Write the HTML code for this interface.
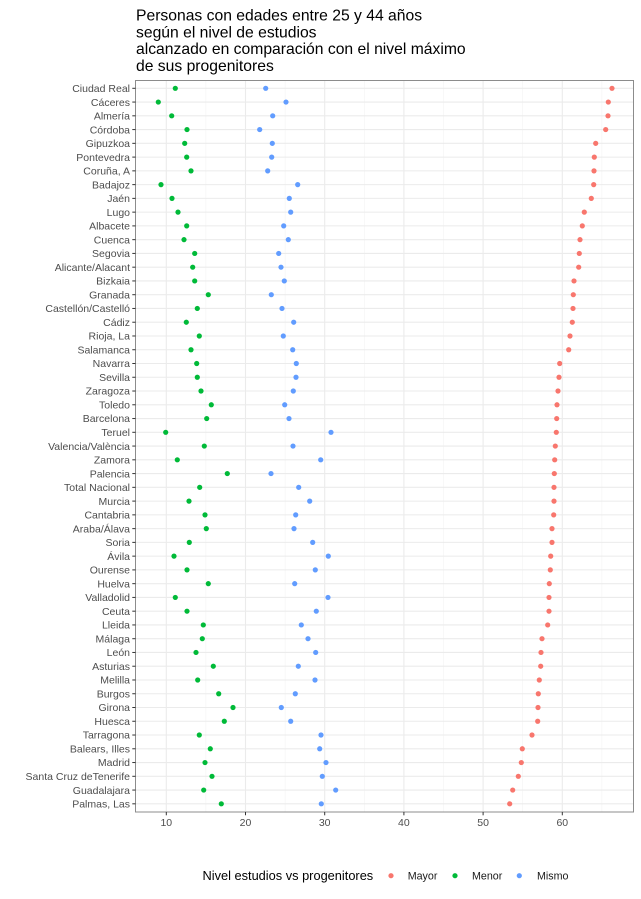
<!DOCTYPE html>
<html>
<head>
<meta charset="utf-8">
<style>
html,body{margin:0;padding:0;background:#fff;}
svg{display:block;}
text{font-family:"Liberation Sans",Arial,sans-serif;}
.yl{font-size:10.5px;fill:#4d4d4d;text-anchor:end;}
.xl{font-size:10.5px;fill:#4d4d4d;text-anchor:middle;}
.t{font-size:15.7px;fill:#000;}
.mj{stroke:#ebebeb;stroke-width:1.07;}
.mn{stroke:#f2f2f2;stroke-width:0.55;}
.tk{stroke:#333;stroke-width:1;}
</style>
</head>
<body>
<svg width="641" height="899" viewBox="0 0 641 899" xmlns="http://www.w3.org/2000/svg">
<rect width="641" height="899" fill="#fff"/>
<!-- title -->
<text class="t" x="136" y="20.7">Personas con edades entre 25 y 44 años</text>
<text class="t" x="136" y="37.4">según el nivel de estudios</text>
<text class="t" x="136" y="54.1">alcanzado en comparación con el nivel máximo</text>
<text class="t" x="136" y="70.8">de sus progenitores</text>

<!-- minor vertical grid -->
<g class="mn">
<line x1="205.9" y1="80" x2="205.9" y2="812"/>
<line x1="285.1" y1="80" x2="285.1" y2="812"/>
<line x1="364.3" y1="80" x2="364.3" y2="812"/>
<line x1="443.5" y1="80" x2="443.5" y2="812"/>
<line x1="522.7" y1="80" x2="522.7" y2="812"/>
<line x1="601.9" y1="80" x2="601.9" y2="812"/>
</g>
<!-- major vertical grid -->
<g class="mj">
<line x1="166.3" y1="80" x2="166.3" y2="812"/>
<line x1="245.5" y1="80" x2="245.5" y2="812"/>
<line x1="324.7" y1="80" x2="324.7" y2="812"/>
<line x1="403.9" y1="80" x2="403.9" y2="812"/>
<line x1="483.1" y1="80" x2="483.1" y2="812"/>
<line x1="562.3" y1="80" x2="562.3" y2="812"/>
</g>
<!-- major horizontal grid -->
<g class="mj">
<line x1="136" y1="88.30" x2="634" y2="88.30"/>
<line x1="136" y1="102.06" x2="634" y2="102.06"/>
<line x1="136" y1="115.82" x2="634" y2="115.82"/>
<line x1="136" y1="129.58" x2="634" y2="129.58"/>
<line x1="136" y1="143.34" x2="634" y2="143.34"/>
<line x1="136" y1="157.10" x2="634" y2="157.10"/>
<line x1="136" y1="170.86" x2="634" y2="170.86"/>
<line x1="136" y1="184.62" x2="634" y2="184.62"/>
<line x1="136" y1="198.38" x2="634" y2="198.38"/>
<line x1="136" y1="212.14" x2="634" y2="212.14"/>
<line x1="136" y1="225.90" x2="634" y2="225.90"/>
<line x1="136" y1="239.66" x2="634" y2="239.66"/>
<line x1="136" y1="253.42" x2="634" y2="253.42"/>
<line x1="136" y1="267.18" x2="634" y2="267.18"/>
<line x1="136" y1="280.94" x2="634" y2="280.94"/>
<line x1="136" y1="294.70" x2="634" y2="294.70"/>
<line x1="136" y1="308.46" x2="634" y2="308.46"/>
<line x1="136" y1="322.22" x2="634" y2="322.22"/>
<line x1="136" y1="335.98" x2="634" y2="335.98"/>
<line x1="136" y1="349.74" x2="634" y2="349.74"/>
<line x1="136" y1="363.50" x2="634" y2="363.50"/>
<line x1="136" y1="377.26" x2="634" y2="377.26"/>
<line x1="136" y1="391.02" x2="634" y2="391.02"/>
<line x1="136" y1="404.78" x2="634" y2="404.78"/>
<line x1="136" y1="418.54" x2="634" y2="418.54"/>
<line x1="136" y1="432.30" x2="634" y2="432.30"/>
<line x1="136" y1="446.06" x2="634" y2="446.06"/>
<line x1="136" y1="459.82" x2="634" y2="459.82"/>
<line x1="136" y1="473.58" x2="634" y2="473.58"/>
<line x1="136" y1="487.34" x2="634" y2="487.34"/>
<line x1="136" y1="501.10" x2="634" y2="501.10"/>
<line x1="136" y1="514.86" x2="634" y2="514.86"/>
<line x1="136" y1="528.62" x2="634" y2="528.62"/>
<line x1="136" y1="542.38" x2="634" y2="542.38"/>
<line x1="136" y1="556.14" x2="634" y2="556.14"/>
<line x1="136" y1="569.90" x2="634" y2="569.90"/>
<line x1="136" y1="583.66" x2="634" y2="583.66"/>
<line x1="136" y1="597.42" x2="634" y2="597.42"/>
<line x1="136" y1="611.18" x2="634" y2="611.18"/>
<line x1="136" y1="624.94" x2="634" y2="624.94"/>
<line x1="136" y1="638.70" x2="634" y2="638.70"/>
<line x1="136" y1="652.46" x2="634" y2="652.46"/>
<line x1="136" y1="666.22" x2="634" y2="666.22"/>
<line x1="136" y1="679.98" x2="634" y2="679.98"/>
<line x1="136" y1="693.74" x2="634" y2="693.74"/>
<line x1="136" y1="707.50" x2="634" y2="707.50"/>
<line x1="136" y1="721.26" x2="634" y2="721.26"/>
<line x1="136" y1="735.02" x2="634" y2="735.02"/>
<line x1="136" y1="748.78" x2="634" y2="748.78"/>
<line x1="136" y1="762.54" x2="634" y2="762.54"/>
<line x1="136" y1="776.30" x2="634" y2="776.30"/>
<line x1="136" y1="790.06" x2="634" y2="790.06"/>
<line x1="136" y1="803.82" x2="634" y2="803.82"/>
</g>

<!-- Mayor (red) -->
<g fill="#F8766D">
<circle cx="612.0" cy="88.30" r="2.6"/>
<circle cx="608.3" cy="102.06" r="2.6"/>
<circle cx="608.0" cy="115.82" r="2.6"/>
<circle cx="605.7" cy="129.58" r="2.6"/>
<circle cx="595.7" cy="143.34" r="2.6"/>
<circle cx="594.3" cy="157.10" r="2.6"/>
<circle cx="594.0" cy="170.86" r="2.6"/>
<circle cx="593.7" cy="184.62" r="2.6"/>
<circle cx="591.3" cy="198.38" r="2.6"/>
<circle cx="584.3" cy="212.14" r="2.6"/>
<circle cx="582.3" cy="225.90" r="2.6"/>
<circle cx="580.0" cy="239.66" r="2.6"/>
<circle cx="579.3" cy="253.42" r="2.6"/>
<circle cx="578.7" cy="267.18" r="2.6"/>
<circle cx="574.0" cy="280.94" r="2.6"/>
<circle cx="573.3" cy="294.70" r="2.6"/>
<circle cx="573.0" cy="308.46" r="2.6"/>
<circle cx="572.3" cy="322.22" r="2.6"/>
<circle cx="570.0" cy="335.98" r="2.6"/>
<circle cx="568.7" cy="349.74" r="2.6"/>
<circle cx="559.7" cy="363.50" r="2.6"/>
<circle cx="559.0" cy="377.26" r="2.6"/>
<circle cx="558.0" cy="391.02" r="2.6"/>
<circle cx="557.0" cy="404.78" r="2.6"/>
<circle cx="556.7" cy="418.54" r="2.6"/>
<circle cx="556.3" cy="432.30" r="2.6"/>
<circle cx="555.3" cy="446.06" r="2.6"/>
<circle cx="554.7" cy="459.82" r="2.6"/>
<circle cx="554.3" cy="473.58" r="2.6"/>
<circle cx="554.0" cy="487.34" r="2.6"/>
<circle cx="554.0" cy="501.10" r="2.6"/>
<circle cx="553.7" cy="514.86" r="2.6"/>
<circle cx="552.0" cy="528.62" r="2.6"/>
<circle cx="552.0" cy="542.38" r="2.6"/>
<circle cx="550.7" cy="556.14" r="2.6"/>
<circle cx="550.3" cy="569.90" r="2.6"/>
<circle cx="549.3" cy="583.66" r="2.6"/>
<circle cx="549.0" cy="597.42" r="2.6"/>
<circle cx="549.0" cy="611.18" r="2.6"/>
<circle cx="547.7" cy="624.94" r="2.6"/>
<circle cx="542.0" cy="638.70" r="2.6"/>
<circle cx="541.0" cy="652.46" r="2.6"/>
<circle cx="540.7" cy="666.22" r="2.6"/>
<circle cx="539.3" cy="679.98" r="2.6"/>
<circle cx="538.3" cy="693.74" r="2.6"/>
<circle cx="538.0" cy="707.50" r="2.6"/>
<circle cx="537.7" cy="721.26" r="2.6"/>
<circle cx="532.0" cy="735.02" r="2.6"/>
<circle cx="522.3" cy="748.78" r="2.6"/>
<circle cx="521.3" cy="762.54" r="2.6"/>
<circle cx="518.3" cy="776.30" r="2.6"/>
<circle cx="512.7" cy="790.06" r="2.6"/>
<circle cx="509.7" cy="803.82" r="2.6"/>
</g>

<!-- Menor (green) -->
<g fill="#00BA38">
<circle cx="175.3" cy="88.30" r="2.6"/>
<circle cx="158.3" cy="102.06" r="2.6"/>
<circle cx="171.7" cy="115.82" r="2.6"/>
<circle cx="187.0" cy="129.58" r="2.6"/>
<circle cx="184.7" cy="143.34" r="2.6"/>
<circle cx="186.7" cy="157.10" r="2.6"/>
<circle cx="191.0" cy="170.86" r="2.6"/>
<circle cx="161.0" cy="184.62" r="2.6"/>
<circle cx="172.0" cy="198.38" r="2.6"/>
<circle cx="178.0" cy="212.14" r="2.6"/>
<circle cx="186.7" cy="225.90" r="2.6"/>
<circle cx="184.0" cy="239.66" r="2.6"/>
<circle cx="194.7" cy="253.42" r="2.6"/>
<circle cx="192.7" cy="267.18" r="2.6"/>
<circle cx="194.7" cy="280.94" r="2.6"/>
<circle cx="208.3" cy="294.70" r="2.6"/>
<circle cx="197.3" cy="308.46" r="2.6"/>
<circle cx="186.3" cy="322.22" r="2.6"/>
<circle cx="199.3" cy="335.98" r="2.6"/>
<circle cx="191.0" cy="349.74" r="2.6"/>
<circle cx="196.7" cy="363.50" r="2.6"/>
<circle cx="197.3" cy="377.26" r="2.6"/>
<circle cx="201.0" cy="391.02" r="2.6"/>
<circle cx="211.3" cy="404.78" r="2.6"/>
<circle cx="206.7" cy="418.54" r="2.6"/>
<circle cx="165.7" cy="432.30" r="2.6"/>
<circle cx="204.3" cy="446.06" r="2.6"/>
<circle cx="177.3" cy="459.82" r="2.6"/>
<circle cx="227.3" cy="473.58" r="2.6"/>
<circle cx="199.7" cy="487.34" r="2.6"/>
<circle cx="189.0" cy="501.10" r="2.6"/>
<circle cx="205.0" cy="514.86" r="2.6"/>
<circle cx="206.3" cy="528.62" r="2.6"/>
<circle cx="189.3" cy="542.38" r="2.6"/>
<circle cx="174.0" cy="556.14" r="2.6"/>
<circle cx="187.0" cy="569.90" r="2.6"/>
<circle cx="208.3" cy="583.66" r="2.6"/>
<circle cx="175.3" cy="597.42" r="2.6"/>
<circle cx="187.0" cy="611.18" r="2.6"/>
<circle cx="203.3" cy="624.94" r="2.6"/>
<circle cx="202.3" cy="638.70" r="2.6"/>
<circle cx="196.0" cy="652.46" r="2.6"/>
<circle cx="213.3" cy="666.22" r="2.6"/>
<circle cx="197.7" cy="679.98" r="2.6"/>
<circle cx="218.7" cy="693.74" r="2.6"/>
<circle cx="233.0" cy="707.50" r="2.6"/>
<circle cx="224.3" cy="721.26" r="2.6"/>
<circle cx="199.3" cy="735.02" r="2.6"/>
<circle cx="210.3" cy="748.78" r="2.6"/>
<circle cx="205.0" cy="762.54" r="2.6"/>
<circle cx="212.0" cy="776.30" r="2.6"/>
<circle cx="203.7" cy="790.06" r="2.6"/>
<circle cx="221.3" cy="803.82" r="2.6"/>
</g>

<!-- Mismo (blue) -->
<g fill="#619CFF">
<circle cx="265.7" cy="88.30" r="2.6"/>
<circle cx="286.0" cy="102.06" r="2.6"/>
<circle cx="272.7" cy="115.82" r="2.6"/>
<circle cx="259.7" cy="129.58" r="2.6"/>
<circle cx="272.3" cy="143.34" r="2.6"/>
<circle cx="271.7" cy="157.10" r="2.6"/>
<circle cx="267.7" cy="170.86" r="2.6"/>
<circle cx="297.7" cy="184.62" r="2.6"/>
<circle cx="289.3" cy="198.38" r="2.6"/>
<circle cx="290.7" cy="212.14" r="2.6"/>
<circle cx="283.7" cy="225.90" r="2.6"/>
<circle cx="288.3" cy="239.66" r="2.6"/>
<circle cx="278.7" cy="253.42" r="2.6"/>
<circle cx="281.0" cy="267.18" r="2.6"/>
<circle cx="284.3" cy="280.94" r="2.6"/>
<circle cx="271.3" cy="294.70" r="2.6"/>
<circle cx="282.0" cy="308.46" r="2.6"/>
<circle cx="293.7" cy="322.22" r="2.6"/>
<circle cx="283.3" cy="335.98" r="2.6"/>
<circle cx="292.7" cy="349.74" r="2.6"/>
<circle cx="296.3" cy="363.50" r="2.6"/>
<circle cx="296.0" cy="377.26" r="2.6"/>
<circle cx="293.3" cy="391.02" r="2.6"/>
<circle cx="284.7" cy="404.78" r="2.6"/>
<circle cx="289.0" cy="418.54" r="2.6"/>
<circle cx="331.0" cy="432.30" r="2.6"/>
<circle cx="293.0" cy="446.06" r="2.6"/>
<circle cx="320.7" cy="459.82" r="2.6"/>
<circle cx="271.0" cy="473.58" r="2.6"/>
<circle cx="298.7" cy="487.34" r="2.6"/>
<circle cx="309.7" cy="501.10" r="2.6"/>
<circle cx="295.7" cy="514.86" r="2.6"/>
<circle cx="294.0" cy="528.62" r="2.6"/>
<circle cx="312.7" cy="542.38" r="2.6"/>
<circle cx="328.3" cy="556.14" r="2.6"/>
<circle cx="315.3" cy="569.90" r="2.6"/>
<circle cx="294.7" cy="583.66" r="2.6"/>
<circle cx="328.0" cy="597.42" r="2.6"/>
<circle cx="316.3" cy="611.18" r="2.6"/>
<circle cx="301.3" cy="624.94" r="2.6"/>
<circle cx="308.0" cy="638.70" r="2.6"/>
<circle cx="315.7" cy="652.46" r="2.6"/>
<circle cx="298.3" cy="666.22" r="2.6"/>
<circle cx="315.0" cy="679.98" r="2.6"/>
<circle cx="295.3" cy="693.74" r="2.6"/>
<circle cx="281.3" cy="707.50" r="2.6"/>
<circle cx="290.7" cy="721.26" r="2.6"/>
<circle cx="321.0" cy="735.02" r="2.6"/>
<circle cx="319.7" cy="748.78" r="2.6"/>
<circle cx="326.0" cy="762.54" r="2.6"/>
<circle cx="322.3" cy="776.30" r="2.6"/>
<circle cx="335.7" cy="790.06" r="2.6"/>
<circle cx="321.3" cy="803.82" r="2.6"/>
</g>

<!-- panel border -->
<rect x="135.5" y="80.5" width="498" height="731.5" fill="none" stroke="#8c8c8c" stroke-width="1"/>

<!-- y ticks -->
<g class="tk">
<line x1="132.3" y1="88.30" x2="135.5" y2="88.30"/>
<line x1="132.3" y1="102.06" x2="135.5" y2="102.06"/>
<line x1="132.3" y1="115.82" x2="135.5" y2="115.82"/>
<line x1="132.3" y1="129.58" x2="135.5" y2="129.58"/>
<line x1="132.3" y1="143.34" x2="135.5" y2="143.34"/>
<line x1="132.3" y1="157.10" x2="135.5" y2="157.10"/>
<line x1="132.3" y1="170.86" x2="135.5" y2="170.86"/>
<line x1="132.3" y1="184.62" x2="135.5" y2="184.62"/>
<line x1="132.3" y1="198.38" x2="135.5" y2="198.38"/>
<line x1="132.3" y1="212.14" x2="135.5" y2="212.14"/>
<line x1="132.3" y1="225.90" x2="135.5" y2="225.90"/>
<line x1="132.3" y1="239.66" x2="135.5" y2="239.66"/>
<line x1="132.3" y1="253.42" x2="135.5" y2="253.42"/>
<line x1="132.3" y1="267.18" x2="135.5" y2="267.18"/>
<line x1="132.3" y1="280.94" x2="135.5" y2="280.94"/>
<line x1="132.3" y1="294.70" x2="135.5" y2="294.70"/>
<line x1="132.3" y1="308.46" x2="135.5" y2="308.46"/>
<line x1="132.3" y1="322.22" x2="135.5" y2="322.22"/>
<line x1="132.3" y1="335.98" x2="135.5" y2="335.98"/>
<line x1="132.3" y1="349.74" x2="135.5" y2="349.74"/>
<line x1="132.3" y1="363.50" x2="135.5" y2="363.50"/>
<line x1="132.3" y1="377.26" x2="135.5" y2="377.26"/>
<line x1="132.3" y1="391.02" x2="135.5" y2="391.02"/>
<line x1="132.3" y1="404.78" x2="135.5" y2="404.78"/>
<line x1="132.3" y1="418.54" x2="135.5" y2="418.54"/>
<line x1="132.3" y1="432.30" x2="135.5" y2="432.30"/>
<line x1="132.3" y1="446.06" x2="135.5" y2="446.06"/>
<line x1="132.3" y1="459.82" x2="135.5" y2="459.82"/>
<line x1="132.3" y1="473.58" x2="135.5" y2="473.58"/>
<line x1="132.3" y1="487.34" x2="135.5" y2="487.34"/>
<line x1="132.3" y1="501.10" x2="135.5" y2="501.10"/>
<line x1="132.3" y1="514.86" x2="135.5" y2="514.86"/>
<line x1="132.3" y1="528.62" x2="135.5" y2="528.62"/>
<line x1="132.3" y1="542.38" x2="135.5" y2="542.38"/>
<line x1="132.3" y1="556.14" x2="135.5" y2="556.14"/>
<line x1="132.3" y1="569.90" x2="135.5" y2="569.90"/>
<line x1="132.3" y1="583.66" x2="135.5" y2="583.66"/>
<line x1="132.3" y1="597.42" x2="135.5" y2="597.42"/>
<line x1="132.3" y1="611.18" x2="135.5" y2="611.18"/>
<line x1="132.3" y1="624.94" x2="135.5" y2="624.94"/>
<line x1="132.3" y1="638.70" x2="135.5" y2="638.70"/>
<line x1="132.3" y1="652.46" x2="135.5" y2="652.46"/>
<line x1="132.3" y1="666.22" x2="135.5" y2="666.22"/>
<line x1="132.3" y1="679.98" x2="135.5" y2="679.98"/>
<line x1="132.3" y1="693.74" x2="135.5" y2="693.74"/>
<line x1="132.3" y1="707.50" x2="135.5" y2="707.50"/>
<line x1="132.3" y1="721.26" x2="135.5" y2="721.26"/>
<line x1="132.3" y1="735.02" x2="135.5" y2="735.02"/>
<line x1="132.3" y1="748.78" x2="135.5" y2="748.78"/>
<line x1="132.3" y1="762.54" x2="135.5" y2="762.54"/>
<line x1="132.3" y1="776.30" x2="135.5" y2="776.30"/>
<line x1="132.3" y1="790.06" x2="135.5" y2="790.06"/>
<line x1="132.3" y1="803.82" x2="135.5" y2="803.82"/>
<!-- x ticks -->
<line x1="166.3" y1="812" x2="166.3" y2="815.3"/>
<line x1="245.5" y1="812" x2="245.5" y2="815.3"/>
<line x1="324.7" y1="812" x2="324.7" y2="815.3"/>
<line x1="403.9" y1="812" x2="403.9" y2="815.3"/>
<line x1="483.1" y1="812" x2="483.1" y2="815.3"/>
<line x1="562.3" y1="812" x2="562.3" y2="815.3"/>
</g>

<!-- y labels -->
<g class="yl">
<text x="130" y="92.0">Ciudad Real</text>
<text x="130" y="105.8">Cáceres</text>
<text x="130" y="119.5">Almería</text>
<text x="130" y="133.3">Córdoba</text>
<text x="130" y="147.0">Gipuzkoa</text>
<text x="130" y="160.8">Pontevedra</text>
<text x="130" y="174.6">Coruña, A</text>
<text x="130" y="188.3">Badajoz</text>
<text x="130" y="202.1">Jaén</text>
<text x="130" y="215.8">Lugo</text>
<text x="130" y="229.6">Albacete</text>
<text x="130" y="243.4">Cuenca</text>
<text x="130" y="257.1">Segovia</text>
<text x="130" y="270.9">Alicante/Alacant</text>
<text x="130" y="284.6">Bizkaia</text>
<text x="130" y="298.4">Granada</text>
<text x="130" y="312.2">Castellón/Castelló</text>
<text x="130" y="325.9">Cádiz</text>
<text x="130" y="339.7">Rioja, La</text>
<text x="130" y="353.4">Salamanca</text>
<text x="130" y="367.2">Navarra</text>
<text x="130" y="381.0">Sevilla</text>
<text x="130" y="394.7">Zaragoza</text>
<text x="130" y="408.5">Toledo</text>
<text x="130" y="422.2">Barcelona</text>
<text x="130" y="436.0">Teruel</text>
<text x="130" y="449.8">Valencia/València</text>
<text x="130" y="463.5">Zamora</text>
<text x="130" y="477.3">Palencia</text>
<text x="130" y="491.0">Total Nacional</text>
<text x="130" y="504.8">Murcia</text>
<text x="130" y="518.6">Cantabria</text>
<text x="130" y="532.3">Araba/Álava</text>
<text x="130" y="546.1">Soria</text>
<text x="130" y="559.8">Ávila</text>
<text x="130" y="573.6">Ourense</text>
<text x="130" y="587.4">Huelva</text>
<text x="130" y="601.1">Valladolid</text>
<text x="130" y="614.9">Ceuta</text>
<text x="130" y="628.6">Lleida</text>
<text x="130" y="642.4">Málaga</text>
<text x="130" y="656.2">León</text>
<text x="130" y="669.9">Asturias</text>
<text x="130" y="683.7">Melilla</text>
<text x="130" y="697.4">Burgos</text>
<text x="130" y="711.2">Girona</text>
<text x="130" y="725.0">Huesca</text>
<text x="130" y="738.7">Tarragona</text>
<text x="130" y="752.5">Balears, Illes</text>
<text x="130" y="766.2">Madrid</text>
<text x="130" y="780.0">Santa Cruz deTenerife</text>
<text x="130" y="793.8">Guadalajara</text>
<text x="130" y="807.5">Palmas, Las</text>
</g>

<!-- x labels -->
<g class="xl">
<text x="166.3" y="826">10</text>
<text x="245.5" y="826">20</text>
<text x="324.7" y="826">30</text>
<text x="403.9" y="826">40</text>
<text x="483.1" y="826">50</text>
<text x="562.3" y="826">60</text>
</g>

<!-- legend -->
<text x="202.5" y="880.2" style="font-size:12.8px;fill:#000;">Nivel estudios vs progenitores</text>
<circle cx="391" cy="875.7" r="2.6" fill="#F8766D"/>
<text x="407.7" y="879.5" style="font-size:10.7px;fill:#1a1a1a;">Mayor</text>
<circle cx="455" cy="875.7" r="2.6" fill="#00BA38"/>
<text x="472" y="879.5" style="font-size:10.7px;fill:#1a1a1a;">Menor</text>
<circle cx="519.3" cy="875.7" r="2.6" fill="#619CFF"/>
<text x="537" y="879.5" style="font-size:10.7px;fill:#1a1a1a;">Mismo</text>
</svg>
</body>
</html>
